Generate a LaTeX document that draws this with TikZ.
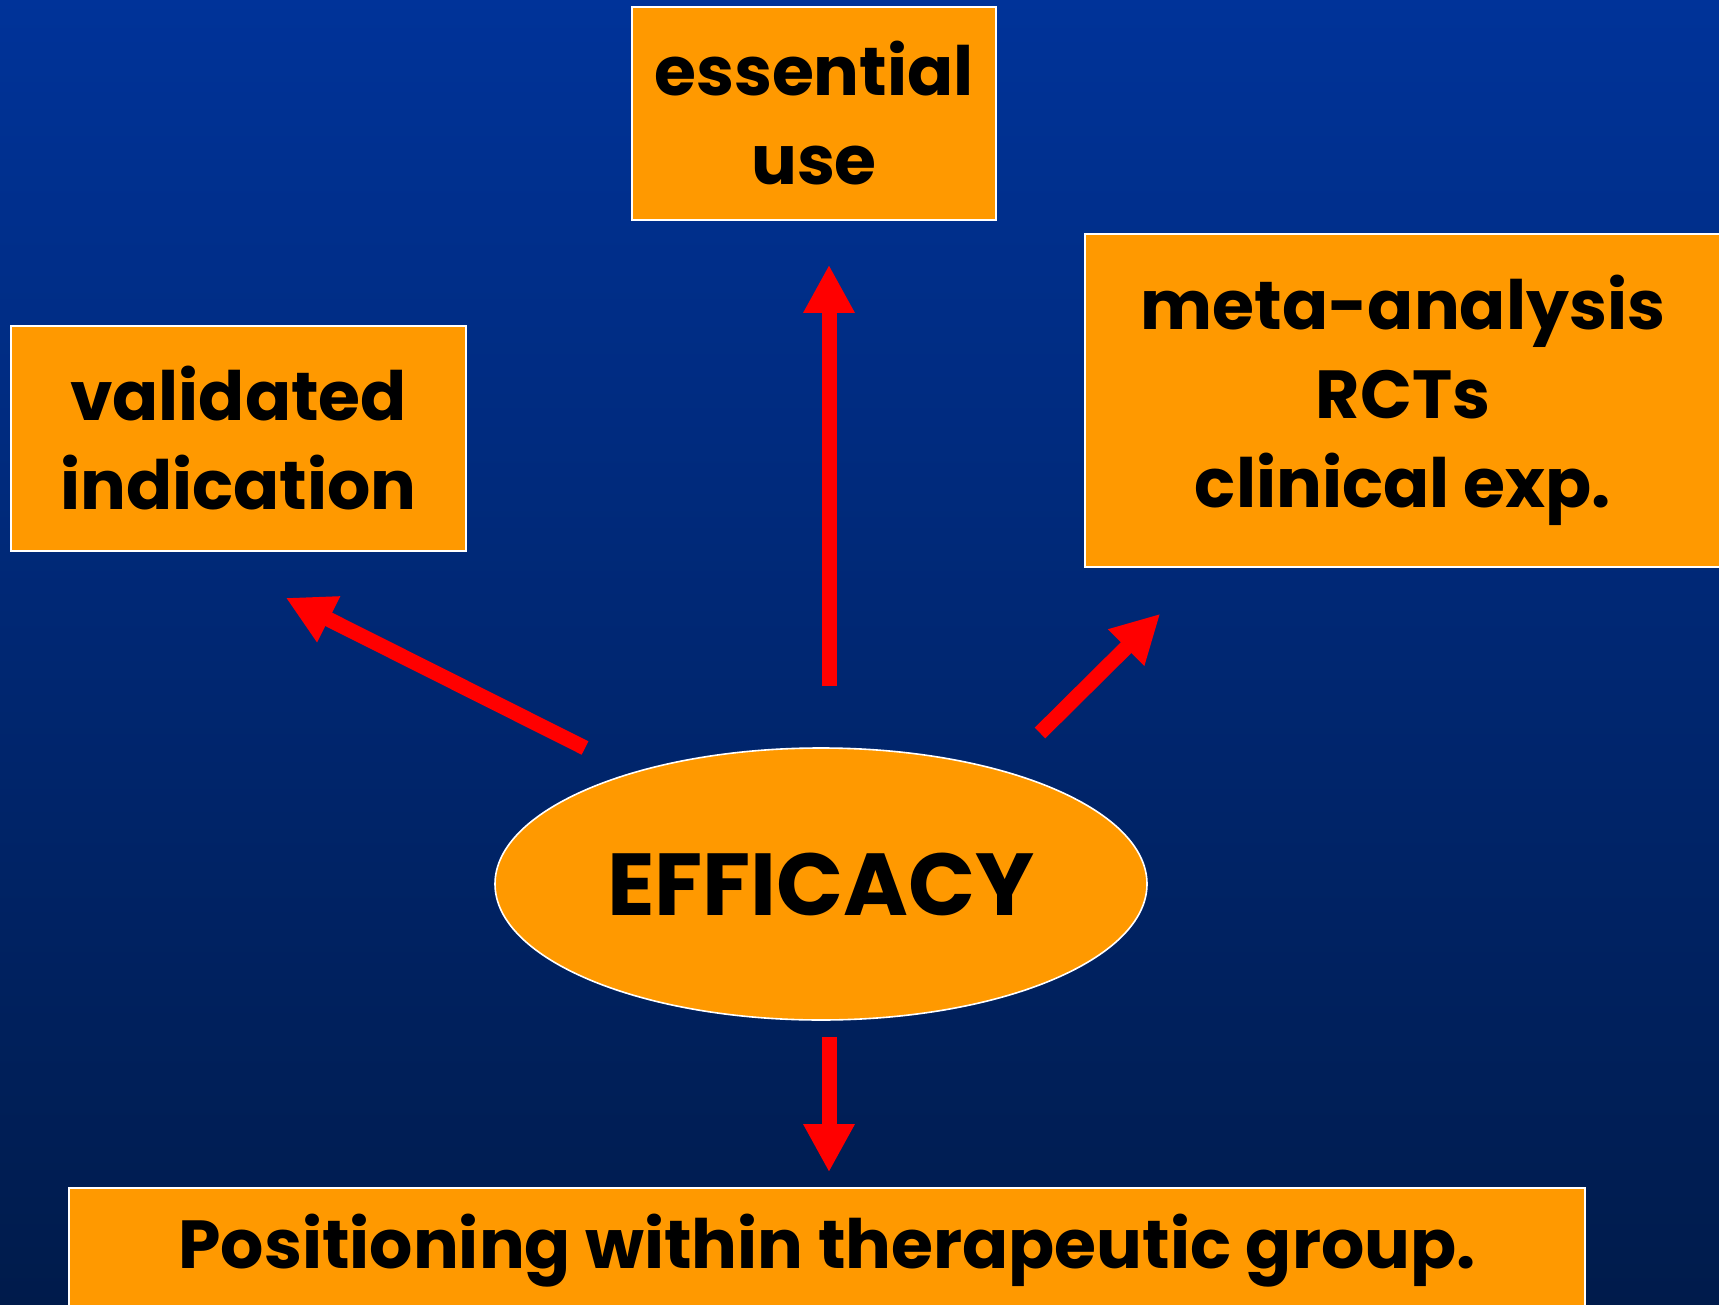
\documentclass[tikz,border=0pt]{standalone}
\usepackage{fontspec}
\setmainfont{Poppins}
\usepackage{xcolor}
\usetikzlibrary{shapes.geometric,arrows.meta}

\definecolor{slidetop}{RGB}{0,51,153}
\definecolor{slidemid}{RGB}{0,41,121}
\definecolor{slidebot}{RGB}{0,27,75}
\definecolor{slideorange}{RGB}{255,153,0}

\tikzset{
  box/.style={draw=white, line width=0.8pt, fill=slideorange, align=center, inner sep=0pt,
    font=\fontsize{34}{44.5}\selectfont\bfseries},
  bigarrow/.style={draw=red, line width=7.5pt, -{Triangle[length=24pt,width=24pt]}},
}

\begin{document}
\begin{tikzpicture}[x=0.5pt,y=-0.5pt]
\useasboundingbox (0,0) rectangle (1719,1305);
% background
\shade[top color=slidetop, middle color=slidemid, bottom color=slidebot] (0,0) rectangle (1719,1305);

% centre
\node[ellipse, draw=white, line width=0.8pt, fill=slideorange, inner sep=0pt,
  minimum width=326pt, minimum height=136pt, font=\fontsize{44}{50}\selectfont\bfseries] (eff) at (821,884) {EFFICACY};

% boxes round it
\node[box, minimum width=182pt, minimum height=106.5pt] (ess) at (814,113.5) {essential\\use};
\node[box, minimum width=227.5pt, minimum height=112.5pt] (val) at (238.5,438.5) {validated\\indication};
\node[box, minimum width=318pt, minimum height=166.5pt] (meta) at (1403,400.5) {meta-analysis\\RCTs\\clinical exp.};
\node[box, minimum width=758pt, minimum height=63pt] (pos) at (827,1251) {Positioning within therapeutic group.};

% arrows
\draw[bigarrow] ([xshift=4pt,yshift=30.5pt]eff.north) -- ([xshift=7.5pt,yshift=-22pt]ess.south);
\draw[bigarrow] ([xshift=-118pt,yshift=68pt]eff.center) -- ([xshift=-90.5pt,yshift=-23pt]val.south east);
\draw[bigarrow] ([xshift=109.5pt,yshift=75.5pt]eff.center) -- ([xshift=38pt,yshift=-23pt]meta.south west);
\draw[bigarrow] ([xshift=4pt,yshift=-8pt]eff.south) -- ([xshift=1pt,yshift=7.5pt]pos.north);
\end{tikzpicture}
\end{document}
